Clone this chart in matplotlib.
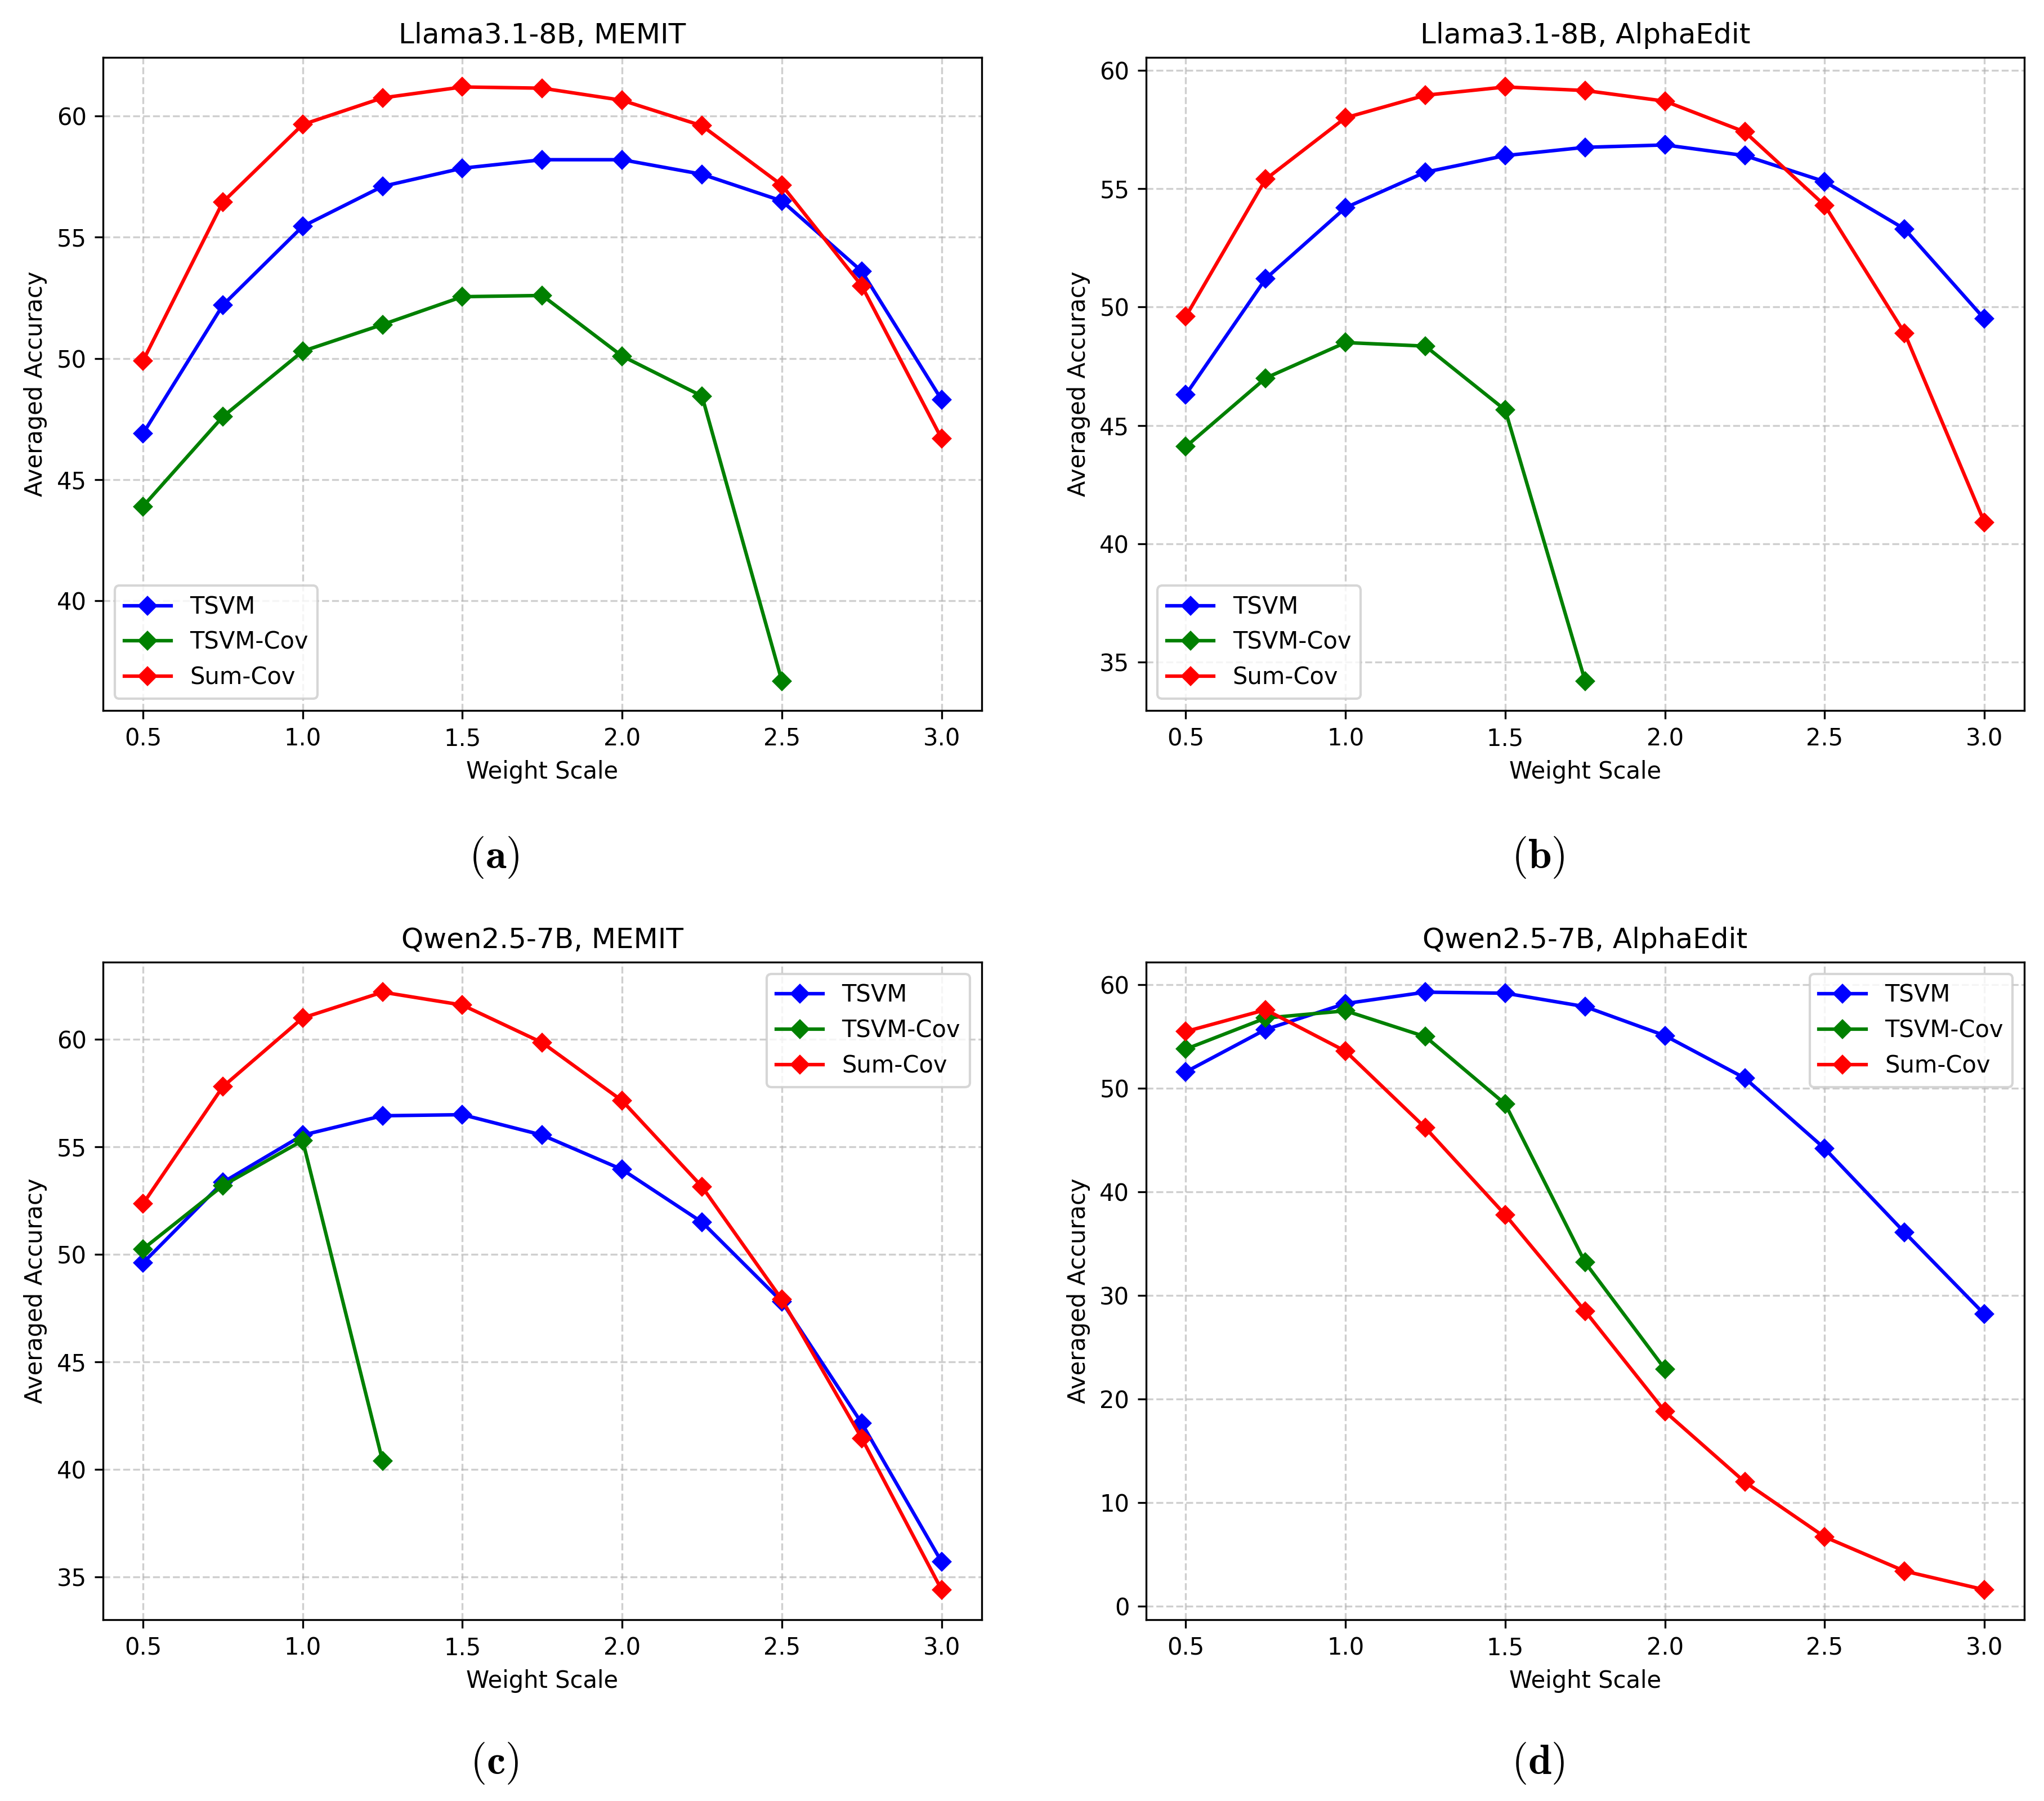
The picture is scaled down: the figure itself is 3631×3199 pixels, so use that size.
import matplotlib
matplotlib.use("Agg")
import matplotlib.pyplot as plt

plt.rcParams["mathtext.fontset"] = "cm"

weight_scale = [0.5, 0.75, 1.0, 1.25, 1.5, 1.75, 2.0, 2.25, 2.5, 2.75, 3.0]

# (a) Llama3.1-8B, MEMIT
llama_memit_tsvm = [46.9, 52.2, 55.45, 57.1, 57.85, 58.2, 58.2, 57.6, 56.5, 53.6, 48.3]
llama_memit_tsvm_cov = [43.9, 47.6, 50.3, 51.4, 52.55, 52.6, 50.1, 48.45, 36.7]
llama_memit_sum_cov = [49.9, 56.45, 59.65, 60.75, 61.2, 61.15, 60.65, 59.6, 57.15, 53.0, 46.7]

# (b) Llama3.1-8B, AlphaEdit
llama_alpha_tsvm = [46.3, 51.2, 54.2, 55.7, 56.4, 56.75, 56.85, 56.4, 55.3, 53.3, 49.5]
llama_alpha_tsvm_cov = [44.1, 47.0, 48.5, 48.35, 45.65, 34.2]
llama_alpha_sum_cov = [49.6, 55.4, 58.0, 58.95, 59.3, 59.15, 58.7, 57.4, 54.3, 48.9, 40.9]

# (c) Qwen2.5-7B, MEMIT
qwen_memit_tsvm = [49.6, 53.35, 55.55, 56.45, 56.5, 55.55, 53.95, 51.5, 47.8, 42.15, 35.7]
qwen_memit_tsvm_cov = [50.25, 53.2, 55.3, 40.4]
qwen_memit_sum_cov = [52.35, 57.8, 61.0, 62.2, 61.6, 59.85, 57.15, 53.15, 47.9, 41.45, 34.4]

# (d) Qwen2.5-7B, AlphaEdit
qwen_alpha_tsvm = [51.6, 55.7, 58.2, 59.3, 59.2, 57.9, 55.1, 51.0, 44.2, 36.1, 28.2]
qwen_alpha_tsvm_cov = [53.8, 56.8, 57.5, 55.0, 48.5, 33.2, 22.9]
qwen_alpha_sum_cov = [55.5, 57.6, 53.6, 46.2, 37.8, 28.5, 18.8, 12.0, 6.7, 3.4, 1.6]

panels = [
    ("Llama3.1-8B, MEMIT", "a", llama_memit_tsvm, llama_memit_tsvm_cov, llama_memit_sum_cov, "lower left"),
    ("Llama3.1-8B, AlphaEdit", "b", llama_alpha_tsvm, llama_alpha_tsvm_cov, llama_alpha_sum_cov, "lower left"),
    ("Qwen2.5-7B, MEMIT", "c", qwen_memit_tsvm, qwen_memit_tsvm_cov, qwen_memit_sum_cov, "upper right"),
    ("Qwen2.5-7B, AlphaEdit", "d", qwen_alpha_tsvm, qwen_alpha_tsvm_cov, qwen_alpha_sum_cov, "upper right"),
]

fig = plt.figure(figsize=(3631 / 300, 3199 / 300), dpi=300)

# axes boxes [left, bottom, width, height] in figure fractions
boxes = [
    [0.0504, 0.6054, 0.4298, 0.3628],
    [0.5606, 0.6054, 0.4298, 0.3628],
    [0.0504, 0.1007, 0.4298, 0.3650],
    [0.5606, 0.1007, 0.4298, 0.3650],
]
# sub-caption positions
label_xy = [(0.2417, 0.524), (0.7526, 0.524), (0.2417, 0.021), (0.7526, 0.021)]

for box, (lx, ly), (title, tag, tsvm, tsvm_cov, sum_cov, loc) in zip(boxes, label_xy, panels):
    ax = fig.add_axes(box)
    ax.plot(weight_scale[:len(tsvm)], tsvm, marker="D", markersize=5, color="blue", label="TSVM")
    ax.plot(weight_scale[:len(tsvm_cov)], tsvm_cov, marker="D", markersize=5, color="green", label="TSVM-Cov")
    ax.plot(weight_scale[:len(sum_cov)], sum_cov, marker="D", markersize=5, color="red", label="Sum-Cov")
    ax.set_title(title)
    ax.set_xlabel("Weight Scale")
    ax.set_ylabel("Averaged Accuracy")
    ax.grid(True, linestyle="--", alpha=0.6)
    ax.legend(loc=loc)
    fig.text(lx, ly, rf"$(\mathbf{{{tag}}})$", ha="center", va="center", fontsize=18)

fig.savefig("out.png", dpi=300)
